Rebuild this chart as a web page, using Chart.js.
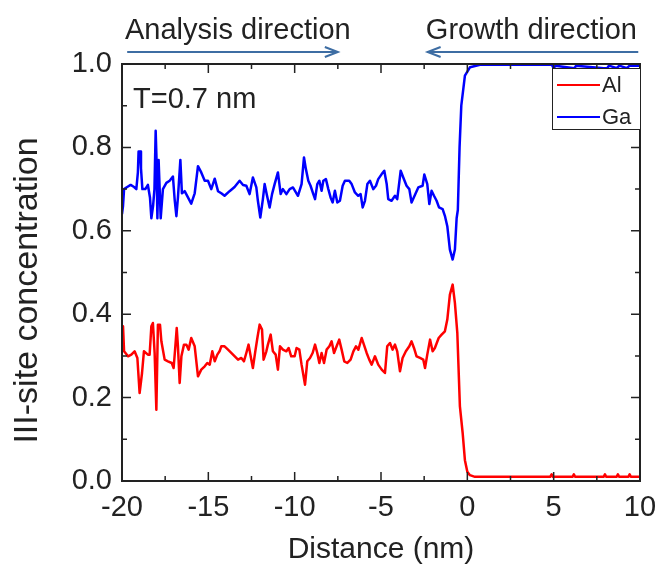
<!DOCTYPE html>
<html>
<head>
<meta charset="utf-8">
<script src="https://cdn.jsdelivr.net/npm/chart.js@4"></script>
<style>
  html, body { margin: 0; padding: 0; background: #ffffff; }
  #wrap { width: 658px; height: 577px; }
</style>
</head>
<body>
<div id="wrap"><canvas id="profileChart" width="658" height="577"></canvas></div>
<script>
// Al and Ga III-site concentration vs distance (nm)
const alDistance = [
  -20.0, -19.94, -19.88, -19.65, -19.46, -19.27, -19.11, -18.98, -18.84, -18.73,
  -18.5, -18.4, -18.3, -18.21, -18.11, -18.01, -17.92, -17.8, -17.72, -17.53,
  -17.34, -17.12, -17.01, -16.91, -16.83, -16.76, -16.66, -16.56, -16.41, -16.27,
  -16.14, -15.99, -15.79, -15.6, -15.41, -15.21, -15.06, -14.92, -14.77, -14.63,
  -14.48, -14.35, -14.25, -14.06, -13.86, -13.57, -13.28, -13.09, -12.94, -12.8,
  -12.67, -12.51, -12.42, -12.28, -12.16, -12.03, -11.89, -11.8, -11.64, -11.55,
  -11.39, -11.26, -11.1, -10.97, -10.85, -10.68, -10.48, -10.35, -10.2, -10.0,
  -9.89, -9.73, -9.6, -9.4, -9.27, -9.11, -8.96, -8.82, -8.69, -8.57,
  -8.44, -8.3, -8.15, -7.99, -7.86, -7.72, -7.57, -7.42, -7.28, -7.13,
  -6.95, -6.76, -6.6, -6.45, -6.31, -6.12, -5.99, -5.83, -5.68, -5.54,
  -5.35, -5.16, -4.96, -4.77, -4.64, -4.48, -4.33, -4.19, -4.06, -3.9,
  -3.75, -3.56, -3.36, -3.23, -3.09, -2.94, -2.74, -2.55, -2.45, -2.32,
  -2.16, -2.01, -1.88, -1.66, -1.49, -1.3, -1.16, -1.01, -0.85, -0.72,
  -0.58, -0.43, -0.27, -0.14, 0.0, 0.15, 0.44, 4.8, 4.88, 4.96,
  6.1, 6.17, 6.24, 7.9, 7.97, 8.04, 8.65, 8.72, 8.79, 9.33,
  9.4, 9.47, 10.0
];
const alConc = [
  0.36, 0.371, 0.311, 0.299, 0.303, 0.311, 0.295, 0.211, 0.259, 0.311,
  0.303, 0.303, 0.371, 0.379, 0.307, 0.171, 0.375, 0.375, 0.335, 0.291,
  0.287, 0.283, 0.271, 0.323, 0.367, 0.323, 0.235, 0.299, 0.327, 0.327,
  0.315, 0.343, 0.323, 0.251, 0.267, 0.275, 0.283, 0.279, 0.311, 0.287,
  0.303, 0.311, 0.323, 0.323, 0.315, 0.303, 0.291, 0.295, 0.287, 0.307,
  0.327, 0.291, 0.271, 0.311, 0.343, 0.375, 0.363, 0.291, 0.311, 0.327,
  0.351, 0.311, 0.303, 0.267, 0.323, 0.315, 0.311, 0.319, 0.299, 0.299,
  0.319, 0.315, 0.279, 0.231, 0.287, 0.295, 0.307, 0.327, 0.307, 0.283,
  0.307, 0.283, 0.315, 0.323, 0.335, 0.307, 0.323, 0.339, 0.315, 0.287,
  0.283, 0.291, 0.311, 0.323, 0.315, 0.343, 0.327, 0.307, 0.291, 0.279,
  0.299, 0.279, 0.267, 0.259, 0.323, 0.331, 0.315, 0.327, 0.311, 0.263,
  0.295, 0.311, 0.323, 0.335, 0.319, 0.299, 0.295, 0.291, 0.271, 0.303,
  0.339, 0.311, 0.319, 0.343, 0.351, 0.359, 0.387, 0.447, 0.471, 0.427,
  0.355, 0.179, 0.115, 0.05, 0.022, 0.014, 0.01, 0.01, 0.016, 0.01,
  0.01, 0.016, 0.01, 0.01, 0.016, 0.01, 0.01, 0.016, 0.01, 0.01,
  0.016, 0.01, 0.01
];

const gaDistance = [
  -20.0, -19.94, -19.88, -19.7, -19.5, -19.3, -19.17, -19.08, -19.04, -18.95,
  -18.9, -18.82, -18.65, -18.5, -18.38, -18.3, -18.2, -18.12, -18.05, -18.0,
  -17.95, -17.88, -17.8, -17.76, -17.63, -17.43, -17.24, -17.05, -16.95, -16.85,
  -16.76, -16.62, -16.53, -16.37, -16.18, -15.99, -15.79, -15.6, -15.41, -15.21,
  -15.02, -14.83, -14.63, -14.44, -14.25, -14.06, -13.77, -13.48, -13.19, -12.99,
  -12.8, -12.61, -12.42, -12.22, -12.13, -11.99, -11.84, -11.74, -11.6, -11.45,
  -11.31, -11.16, -10.97, -10.81, -10.68, -10.48, -10.29, -10.1, -9.81, -9.6,
  -9.46, -9.35, -9.21, -9.08, -8.92, -8.82, -8.69, -8.57, -8.44, -8.34,
  -8.19, -8.05, -7.92, -7.8, -7.67, -7.53, -7.38, -7.22, -7.09, -6.84,
  -6.7, -6.51, -6.32, -6.18, -6.06, -5.93, -5.79, -5.64, -5.45, -5.29,
  -5.16, -4.96, -4.81, -4.67, -4.58, -4.39, -4.19, -4.06, -3.86, -3.71,
  -3.52, -3.36, -3.23, -3.01, -2.84, -2.59, -2.49, -2.32, -2.2, -2.07,
  -1.93, -1.78, -1.64, -1.43, -1.3, -1.16, -1.01, -0.85, -0.72, -0.62,
  -0.55, -0.45, -0.35, -0.14, 0.15, 0.73, 4.9, 5.0, 5.1, 6.2,
  6.3, 7.9, 8.1, 8.2, 8.66, 8.8, 9.24, 9.4, 10.0
];
const gaConc = [
  0.64, 0.66, 0.70, 0.705, 0.71, 0.705, 0.70, 0.74, 0.79, 0.79,
  0.75, 0.70, 0.70, 0.71, 0.68, 0.63, 0.66, 0.70, 0.84, 0.77,
  0.63, 0.77, 0.68, 0.63, 0.70, 0.715, 0.72, 0.73, 0.675, 0.635,
  0.68, 0.77, 0.69, 0.695, 0.68, 0.665, 0.69, 0.755, 0.74, 0.72,
  0.72, 0.70, 0.725, 0.695, 0.69, 0.684, 0.695, 0.705, 0.72, 0.71,
  0.708, 0.688, 0.728, 0.704, 0.672, 0.632, 0.676, 0.712, 0.684, 0.656,
  0.688, 0.712, 0.74, 0.688, 0.70, 0.688, 0.70, 0.704, 0.684, 0.712,
  0.776, 0.748, 0.72, 0.708, 0.688, 0.676, 0.712, 0.72, 0.696, 0.72,
  0.724, 0.70, 0.68, 0.668, 0.696, 0.668, 0.672, 0.708, 0.72, 0.72,
  0.712, 0.692, 0.684, 0.688, 0.656, 0.672, 0.712, 0.72, 0.70, 0.708,
  0.724, 0.736, 0.744, 0.712, 0.676, 0.672, 0.684, 0.676, 0.744, 0.728,
  0.708, 0.70, 0.668, 0.688, 0.704, 0.708, 0.735, 0.712, 0.664, 0.696,
  0.684, 0.672, 0.656, 0.652, 0.636, 0.611, 0.555, 0.531, 0.555, 0.63,
  0.65, 0.80, 0.90, 0.972, 0.992, 0.998, 0.998, 0.99, 0.996, 0.99,
  0.996, 0.99, 0.99, 0.996, 0.99, 0.996, 0.99, 0.996, 0.996
];

const xTickStep = 5;
const yTickStep = 0.2;

const FONT = "'Liberation Sans', Arial, sans-serif";
const TEXT_COLOR = "#222222";
const ARROW_COLOR = "#3d6da3";

function toPoints(xs, ys) {
  return xs.map((x, i) => ({ x: x, y: ys[i] }));
}

// box, inward major/minor ticks on all four sides
const frameTicks = {
  id: "frameTicks",
  afterDatasetsDraw(chart) {
    const ctx = chart.ctx;
    const a = chart.chartArea;
    const xs = chart.scales.x;
    const ys = chart.scales.y;
    ctx.save();
    ctx.strokeStyle = TEXT_COLOR;
    ctx.lineWidth = 2;
    ctx.strokeRect(a.left, a.top, a.right - a.left, a.bottom - a.top);

    ctx.lineWidth = 1.5;
    function tickList(scale) {
      let out = [];
      let vals = scale.ticks.map((t) => t.value);
      for (let i = 0; i < vals.length; i++) {
        out.push({ v: vals[i], len: 9 });
        if (i < vals.length - 1) out.push({ v: (vals[i] + vals[i + 1]) / 2, len: 5 });
      }
      return out;
    }
    ctx.beginPath();
    tickList(xs).forEach(function (t) {
      let px = xs.getPixelForValue(t.v);
      ctx.moveTo(px, a.bottom);
      ctx.lineTo(px, a.bottom - t.len);
      ctx.moveTo(px, a.top);
      ctx.lineTo(px, a.top + t.len);
    });
    tickList(ys).forEach(function (t) {
      let py = ys.getPixelForValue(t.v);
      ctx.moveTo(a.left, py);
      ctx.lineTo(a.left + t.len, py);
      ctx.moveTo(a.right, py);
      ctx.lineTo(a.right - t.len, py);
    });
    ctx.stroke();
    ctx.restore();
  },
};

function drawArrow(ctx, x1, x2, y) {
  let dir = x2 > x1 ? 1 : -1;
  ctx.beginPath();
  ctx.moveTo(x1, y);
  ctx.lineTo(x2, y);
  ctx.moveTo(x2 - dir * 13, y - 5);
  ctx.lineTo(x2, y);
  ctx.lineTo(x2 - dir * 13, y + 5);
  ctx.stroke();
}

// direction labels, y title, thickness note and the boxed legend
const annotations = {
  id: "annotations",
  afterDraw(chart) {
    const ctx = chart.ctx;
    const a = chart.chartArea;
    const xs = chart.scales.x;
    ctx.save();

    ctx.fillStyle = TEXT_COLOR;
    ctx.font = "29px " + FONT;
    ctx.textBaseline = "alphabetic";
    ctx.textAlign = "left";
    ctx.fillText("Analysis direction", xs.getPixelForValue(-20) + 3, a.top - 25);
    ctx.textAlign = "right";
    ctx.fillText("Growth direction", xs.getPixelForValue(10) - 3, a.top - 25);

    ctx.strokeStyle = ARROW_COLOR;
    ctx.lineWidth = 2;
    drawArrow(ctx, xs.getPixelForValue(-19.7), xs.getPixelForValue(-7.5), a.top - 12);
    drawArrow(ctx, xs.getPixelForValue(9.9), xs.getPixelForValue(-2.3), a.top - 12);

    ctx.textAlign = "left";
    ctx.fillText("T=0.7 nm", a.left + 11, a.top + 44);

    // y axis title, a bit below the middle as in the figure
    ctx.save();
    ctx.translate(28, (a.top + a.bottom) / 2 + 18);
    ctx.rotate(-Math.PI / 2);
    ctx.font = "34px " + FONT;
    ctx.textAlign = "center";
    ctx.textBaseline = "middle";
    ctx.fillText("III-site concentration", 0, 0);
    ctx.restore();

    // legend
    let bx = a.right - 88;
    let by = a.top + 4;
    ctx.fillStyle = "#ffffff";
    ctx.fillRect(bx, by, a.right - bx, 61);
    ctx.strokeStyle = TEXT_COLOR;
    ctx.lineWidth = 1;
    ctx.strokeRect(bx + 0.5, by + 0.5, a.right - bx, 61);
    ctx.font = "22px " + FONT;
    ctx.textBaseline = "middle";
    chart.data.datasets.forEach(function (ds, i) {
      let ly = by + 17 + i * 32;
      ctx.strokeStyle = ds.borderColor;
      ctx.lineWidth = 2;
      ctx.beginPath();
      ctx.moveTo(bx + 5, ly);
      ctx.lineTo(bx + 48, ly);
      ctx.stroke();
      ctx.fillStyle = TEXT_COLOR;
      ctx.fillText(ds.label, bx + 50, ly + 1);
    });
    ctx.restore();
  },
};

let ctx = document.getElementById("profileChart").getContext("2d");
let myChart = new Chart(ctx, {
  type: "line",
  data: {
    datasets: [
      {
        label: "Al",
        data: toPoints(alDistance, alConc),
        borderColor: "#ff0000",
        borderWidth: 2.5,
        borderJoinStyle: "round",
        pointRadius: 0,
        tension: 0,
        fill: false,
      },
      {
        label: "Ga",
        data: toPoints(gaDistance, gaConc),
        borderColor: "#0000ff",
        borderWidth: 2.5,
        borderJoinStyle: "round",
        pointRadius: 0,
        tension: 0,
        fill: false,
      },
    ],
  },
  options: {
    responsive: false,
    animation: false,
    devicePixelRatio: 1,
    layout: { padding: { top: 64, right: 18, left: 0, bottom: 0 } },
    plugins: {
      legend: { display: false },
      tooltip: { enabled: false },
    },
    scales: {
      x: {
        type: "linear",
        min: -20,
        max: 10,
        afterFit: function (scale) {
          scale.height = 96;
          scale.paddingLeft = 0;
          scale.paddingRight = 0;
        },
        ticks: {
          stepSize: xTickStep,
          color: TEXT_COLOR,
          font: { family: FONT, size: 29 },
          padding: 10,
          maxRotation: 0,
        },
        grid: { display: false, drawTicks: false },
        border: { display: false },
        title: {
          display: true,
          text: "Distance (nm)",
          color: TEXT_COLOR,
          font: { family: FONT, size: 30 },
          padding: { top: 0, bottom: 9 },
        },
      },
      y: {
        type: "linear",
        min: 0,
        max: 1,
        afterFit: function (scale) {
          scale.width = 122;
          scale.paddingTop = 0;
          scale.paddingBottom = 0;
        },
        ticks: {
          stepSize: yTickStep,
          color: TEXT_COLOR,
          font: { family: FONT, size: 29 },
          padding: 10,
          callback: function (v) {
            return v.toFixed(1);
          },
        },
        grid: { display: false, drawTicks: false },
        border: { display: false },
      },
    },
  },
  plugins: [frameTicks, annotations],
});
</script>
</body>
</html>
